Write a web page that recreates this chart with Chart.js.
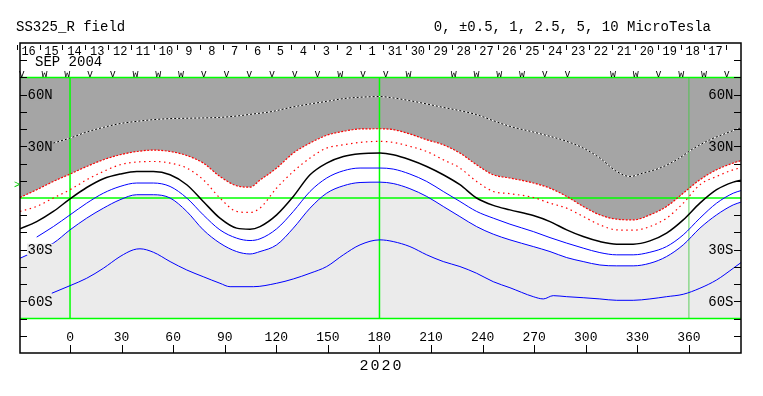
<!DOCTYPE html>
<html>
<head>
<meta charset="utf-8">
<script src="https://cdn.jsdelivr.net/npm/chart.js@4.4.1/dist/chart.umd.min.js"></script>
<style>
  body { margin: 0; background: #fff; }
  canvas { display: block; }
</style>
</head>
<body>
<canvas id="chart" width="763" height="396"></canvas>
<script>
// longitude grid shared by the five inner contours
const lonGrid = [-29.1, -19.4, -9.7, 0, 9.7, 19.4, 29.1, 38.8, 48.5, 58.2, 67.9, 77.5, 87.2, 96.9, 104.7,
  110.5, 120.2, 129.9, 139.6, 149.3, 159.0, 168.7, 180.3, 188.0, 197.7, 207.5, 217.1, 226.8, 236.5, 246.2,
  255.9, 269.5, 279.2, 288.9, 298.5, 308.2, 318.0, 327.6, 337.3, 347.0, 356.7, 366.4, 376.1, 385.8, 390.3];

const red1Lat = [0.3, 4.8, 9.6, 13.9, 18.3, 22.2, 25.1, 27.0, 27.8, 27.0, 24.7, 20.3, 12.5, 7.1, 6.3,
  10.4, 17.4, 26.1, 31.9, 36.4, 38.7, 40.1, 40.2, 39.7, 37.2, 33.8, 30.9, 26.1, 19.3, 13.5,
  11.6, 8.7, 5.7, 0.9, -4.9, -9.8, -12.3, -12.7, -9.8, -4.9, 2.8, 10.6, 16.4, 20.3, 21.7];
const red2Lat = [-7.8, -4.9, 0, 4.8, 10.6, 15.4, 19.3, 20.9, 21.2, 20.3, 17.4, 10.6, 0, -7.8, -8.4,
  -5.9, 5.8, 15.4, 23.2, 29.0, 30.9, 32.3, 32.9, 32.3, 30.0, 27.0, 22.2, 17.4, 9.6, 3.8,
  2.5, 0.3, -3.0, -5.9, -10.7, -15.6, -18.5, -18.7, -16.6, -11.7, -3.0, 7.7, 12.5, 16.4, 17.6];
const blackLat = [-17.9, -13.7, -7.8, -0.5, 6.1, 11.2, 13.9, 15.4, 15.4, 13.5, 7.7, -2.0, -11.7, -17.5, -18.1,
  -16.6, -9.8, 0.9, 13.5, 20.3, 24.1, 25.7, 26.1, 25.1, 22.2, 18.3, 13.5, 7.7, 0, -4.3,
  -6.9, -10.2, -13.7, -18.5, -22.4, -25.3, -26.8, -26.8, -24.9, -20.4, -12.7, -3.0, 4.8, 9.2, 10.3];
const blue1Lat = [null, -22.7, -16.6, -9.8, -3.0, 2.8, 6.7, 8.7, 8.7, 6.7, 0, -9.8, -18.5, -23.3, -24.7,
  -23.7, -17.9, -7.8, 3.8, 11.6, 15.8, 17.4, 17.4, 16.8, 13.9, 9.6, 3.8, -2.0, -7.8, -11.7,
  -15.2, -19.5, -23.0, -26.2, -29.1, -31.7, -33.0, -33.0, -31.5, -28.2, -21.4, -11.7, -3.0, 2.8, 4.3];
const blue2Lat = [-35.0, -30.6, -26.2, -18.5, -11.7, -5.9, -1.0, 1.9, 1.9, 0, -7.8, -18.5, -26.2, -31.1, -32.5,
  -31.1, -27.2, -17.5, -5.9, 2.8, 7.1, 9.0, 9.2, 8.4, 5.4, 0.9, -4.9, -10.8, -16.6, -21.0,
  -24.3, -28.2, -31.1, -34.6, -36.9, -38.9, -39.4, -39.4, -37.9, -34.0, -27.2, -17.5, -9.8, -4.0, -2.4];

// outer contour (dotted, inside the dark area)
const zeroLon = [-9.7, 0, 9.7, 19.4, 29.1, 38.8, 48.5, 58.2, 67.9, 77.5, 87.2, 96.9, 106.6, 116.3, 129.9,
  139.6, 149.3, 159.0, 168.7, 180.3, 188.0, 197.7, 207.5, 217.1, 226.8, 236.5, 246.2, 255.9, 269.5, 279.2,
  288.9, 298.5, 308.2, 318.0, 325.7, 333.4, 343.1, 352.9, 362.5, 372.2, 381.9, 390.3];
const zeroLat = [31.9, 34.8, 38.3, 41.0, 43.2, 44.5, 45.5, 46.1, 46.3, 46.5, 46.8, 47.6, 48.8, 50.0, 52.9,
  54.6, 56.1, 57.7, 58.5, 58.9, 58.1, 56.5, 54.6, 52.6, 50.7, 48.4, 44.9, 41.6, 38.3, 35.8,
  32.9, 29.0, 23.2, 15.4, 12.5, 14.5, 17.4, 22.2, 28.6, 33.8, 37.7, 40.8];

// 10 microtesla contour, far south
const tenLon = [-10.6, 0, 9.7, 19.4, 29.1, 36.8, 40.7, 48.5, 58.2, 67.9, 77.5, 87.2, 93.1, 106.6, 120.2,
  129.9, 139.6, 149.3, 159.0, 168.7, 180.3, 188.0, 197.7, 207.5, 217.1, 226.8, 236.5, 246.2, 255.9, 269.5,
  275.3, 281.1, 288.9, 298.5, 308.2, 318.0, 327.6, 337.3, 347.0, 356.7, 366.4, 376.1, 385.8, 390.3];
const tenLat = [-55.3, -50.9, -46.6, -40.8, -34.0, -30.1, -29.5, -31.5, -36.9, -41.8, -45.7, -49.5, -51.5, -51.5, -49.5,
  -47.0, -43.7, -39.8, -33.0, -27.2, -24.3, -25.3, -28.2, -33.0, -36.9, -39.8, -43.7, -48.6, -52.1, -57.3,
  -58.6, -56.7, -57.3, -57.9, -58.6, -59.4, -59.4, -58.6, -57.3, -55.9, -52.4, -47.6, -40.8, -37.5];

const lonTicks = [0, 30, 60, 90, 120, 150, 180, 210, 240, 270, 300, 330, 360];
const latTicks = [-80, -70, -60, -50, -40, -30, -20, -10, 10, 20, 30, 40, 50, 60, 70, 80];
const latLabelValues = [60, 30, -30, -60];
const latLabelTexts = ['60N', '30N', '30S', '60S'];

const dayLabels = ['16', '15', '14', '13', '12', '11', '10', '9', '8', '7', '6', '5', '4', '3', '2', '1',
  '31', '30', '29', '28', '27', '26', '25', '24', '23', '22', '21', '20', '19', '18', '17'];
const dayStartLon = -31.06, dayStepLon = 13.32;
const passMarks = ['v', 'w', 'w', 'v', 'v', 'w', 'w', 'w', 'v', 'v', 'v', 'v', 'v', 'v', 'w', 'v',
  'v', 'w', '', 'w', 'w', 'w', 'w', 'v', 'v', '', 'w', 'w', 'v', 'w', 'w', 'v'];
const markStartLon = -28.09, markStepLon = 13.23;
const sideMarkLat = 7.3;

const DARK = '#a5a5a5';
const LIGHT = '#ebebeb';
const GREEN = '#00ff00';
const MONO = '"Liberation Mono", "DejaVu Sans Mono", monospace';

const pts = (lons, lats) => lons.map((x, i) => ({ x, y: lats[i] }));
const curve = (data, color, width, dash, extra) => ({
  data, borderColor: color, borderWidth: width, borderDash: dash || [],
  pointRadius: 0, fill: false, cubicInterpolationMode: 'monotone', order: 1, ...extra
});
const guide = (data, width, color) => ({
  data, borderColor: color || GREEN, borderWidth: width, pointRadius: 0, fill: false, tension: 0, order: 10
});

const axesPlugin = {
  id: 'axesFrame',
  afterDatasetsDraw(chart) {
    const { ctx, chartArea: a, scales: { x, y } } = chart;
    ctx.save();

    // latitude labels, both sides
    ctx.font = `14px ${MONO}`;
    ctx.textBaseline = 'middle';
    latLabelValues.forEach((lat, i) => {
      const txt = latLabelTexts[i];
      const py = y.getPixelForValue(lat);
      const w = ctx.measureText(txt).width;
      ctx.fillStyle = lat > 0 ? DARK : LIGHT;
      ctx.fillRect(a.left + 7, py - 6, w + 1, 12);
      ctx.fillStyle = '#000';
      ctx.textAlign = 'left';
      ctx.fillText(txt, a.left + 7.5, py + 0.5);
      ctx.textAlign = 'right';
      ctx.fillText(txt, a.right - 7.5, py + 0.5);
    });

    // frame
    ctx.strokeStyle = '#000';
    ctx.lineWidth = 1.5;
    ctx.strokeRect(a.left, a.top, a.width, a.height);

    // ticks
    ctx.lineWidth = 1;
    ctx.beginPath();
    latTicks.forEach(lat => {
      const py = Math.round(y.getPixelForValue(lat)) + 0.5;
      ctx.moveTo(a.left, py); ctx.lineTo(a.left + 7, py);
      ctx.moveTo(a.right - 7, py); ctx.lineTo(a.right, py);
    });
    lonTicks.forEach(lon => {
      const px = Math.round(x.getPixelForValue(lon)) + 0.5;
      ctx.moveTo(px, a.bottom); ctx.lineTo(px, a.bottom - 8);
    });
    for (let i = 0; i <= dayLabels.length; i++) {
      const px = Math.round(x.getPixelForValue(dayStartLon + dayStepLon * i)) + 0.5;
      ctx.moveTo(px, a.top + 2); ctx.lineTo(px, a.top + 7);
    }
    ctx.stroke();

    // longitude labels
    ctx.fillStyle = '#000';
    ctx.textAlign = 'center';
    ctx.font = `13px ${MONO}`;
    lonTicks.forEach(lon => ctx.fillText(String(lon), x.getPixelForValue(lon), a.bottom - 15));

    // day labels
    ctx.font = `12px ${MONO}`;
    dayLabels.forEach((d, i) => {
      ctx.fillText(d, x.getPixelForValue(dayStartLon + dayStepLon * (i + 0.5)) + 0.5, a.top + 8.5);
    });

    // pass marks
    ctx.font = `10px ${MONO}`;
    passMarks.forEach((m, i) => {
      if (m) ctx.fillText(m, x.getPixelForValue(markStartLon + markStepLon * i), a.top + 31);
    });

    ctx.textAlign = 'left';
    ctx.font = `14px ${MONO}`;
    ctx.fillText('SEP 2004', a.left + 15, a.top + 19.5);

    // titles
    ctx.fillText('SS325_R field', 16, 27);
    ctx.textAlign = 'right';
    ctx.fillText('0, \u00b10.5, 1, 2.5, 5, 10 MicroTesla', 711, 27);

    ctx.textAlign = 'center';
    ctx.font = `15px ${MONO}`;
    if ('letterSpacing' in ctx) ctx.letterSpacing = '2px';
    ctx.fillText('2020', x.getPixelForValue(180) + 2, a.bottom + 13);
    if ('letterSpacing' in ctx) ctx.letterSpacing = '0px';

    // side marker
    ctx.fillStyle = '#00cc00';
    ctx.font = `10px ${MONO}`;
    ctx.fillText('>', a.left - 3, y.getPixelForValue(sideMarkLat));

    ctx.restore();
  }
};

new Chart(document.getElementById('chart'), {
  type: 'line',
  data: {
    datasets: [
      curve(pts(zeroLon, zeroLat), '#000', 1, [2, 2]),
      curve(pts(zeroLon, zeroLat), '#fff', 1, [], { order: 2 }),
      curve(pts(lonGrid, red1Lat), '#ff0000', 1.2, [2, 1.5], { fill: { value: 70 }, backgroundColor: DARK }),
      curve(pts(lonGrid, red2Lat), '#ff0000', 1.2, [1.5, 3.5]),
      curve(pts(lonGrid, blackLat), '#000', 1.5),
      curve(pts(lonGrid, blue1Lat), '#0000ff', 1),
      curve(pts(lonGrid, blue2Lat), '#0000ff', 1, [], { fill: { value: -70 }, backgroundColor: LIGHT }),
      curve(pts(tenLon, tenLat), '#0000ff', 1),
      guide([{ x: -29.1, y: 0 }, { x: 390.3, y: 0 }], 1.5),
      guide([{ x: -29.1, y: 70 }, { x: 390.3, y: 70 }], 1.5),
      guide([{ x: -29.1, y: -70 }, { x: 390.3, y: -70 }], 1.5),
      guide([{ x: 0, y: -70 }, { x: 0, y: 70 }], 1.5),
      guide([{ x: 180, y: -70 }, { x: 180, y: 70 }], 1.5),
      guide([{ x: 360, y: -70 }, { x: 360, y: 70 }], 1, 'rgba(60, 200, 60, 0.8)')
    ]
  },
  options: {
    responsive: false,
    animation: false,
    devicePixelRatio: 1,
    layout: { padding: { left: 20, right: 22, top: 43, bottom: 43 } },
    scales: {
      x: { type: 'linear', min: -29.1, max: 390.3, display: false },
      y: { type: 'linear', min: -90, max: 90, display: false }
    },
    plugins: {
      legend: { display: false },
      tooltip: { enabled: false },
      filler: { drawTime: 'beforeDatasetsDraw' }
    }
  },
  plugins: [axesPlugin]
});
</script>
</body>
</html>
